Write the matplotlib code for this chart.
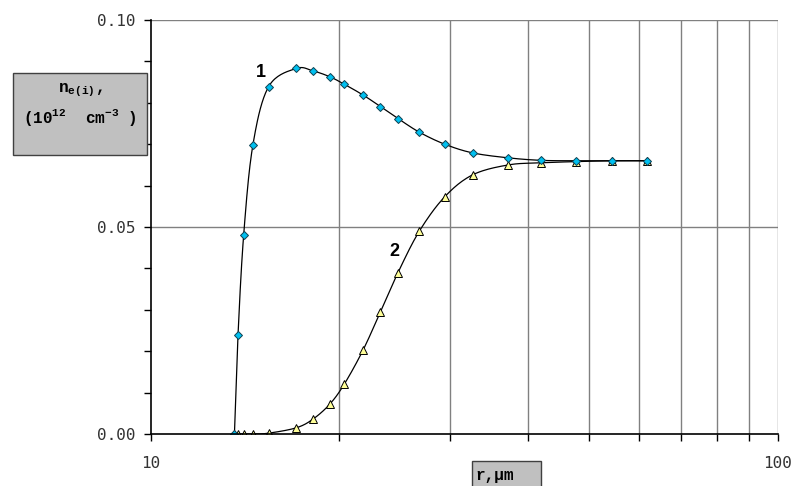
import numpy as np
import matplotlib
matplotlib.use('Agg')
import matplotlib.pyplot as plt
from matplotlib.patches import Rectangle

# radius, um (shared by both curves)
r = [13.6, 13.78, 14.07, 14.55, 15.42, 17.07, 18.15, 19.3, 20.35, 21.8,
     23.25, 24.8, 26.82, 29.44, 32.62, 37.2, 41.95, 47.7, 54.45, 61.9]
# curve 1: electrons
ne = [0.0, 0.0239, 0.0481, 0.0697, 0.0839, 0.0883, 0.0877, 0.0863, 0.0845, 0.0819,
      0.0791, 0.0762, 0.0729, 0.0700, 0.0679, 0.0667, 0.0661, 0.0660, 0.0660, 0.0660]
# curve 2: ions
ni = [0.0, 0.0, 0.0, 0.0, 0.0002, 0.0015, 0.0036, 0.0072, 0.0120, 0.0202,
      0.0295, 0.0390, 0.0490, 0.0573, 0.0626, 0.0650, 0.0655, 0.0658, 0.0660, 0.0660]

plt.rcParams['mathtext.fontset'] = 'custom'
plt.rcParams['mathtext.rm'] = 'Liberation Mono:bold'
plt.rcParams['mathtext.it'] = 'Liberation Mono:bold'
plt.rcParams['mathtext.bf'] = 'Liberation Mono:bold'

fig = plt.figure(figsize=(8.01, 4.86), dpi=100)
ax = fig.add_axes([150.7 / 801, 52 / 486, 627 / 801, 414 / 486])
ax.set_xscale('log')
ax.set_xlim(10, 100)
ax.set_ylim(0, 0.10)


def smooth(x, y, n=20):
    # catmull-rom in (log x, y) screen-like space, like excel's smoothed line
    u = np.log10(np.array(x, float)) * 627.0
    v = np.array(y, float) * 4140.0
    pu = np.concatenate([[u[0]], u, [u[-1]]])
    pv = np.concatenate([[v[0]], v, [v[-1]]])
    ou, ov = [], []
    for i in range(1, len(pu) - 2):
        t = np.linspace(0, 1, n, endpoint=False)
        for p, out in ((pu, ou), (pv, ov)):
            p0, p1, p2, p3 = p[i - 1], p[i], p[i + 1], p[i + 2]
            out.extend(0.5 * (2 * p1 + (-p0 + p2) * t + (2 * p0 - 5 * p1 + 4 * p2 - p3) * t ** 2
                              + (-p0 + 3 * p1 - 3 * p2 + p3) * t ** 3))
    ou.append(u[-1])
    ov.append(v[-1])
    return 10 ** (np.array(ou) / 627.0), np.array(ov) / 4140.0


sx, sy = smooth(r, ni)
ax.plot(sx, sy, color='black', lw=0.9, zorder=3)
ax.plot(r, ni, ls='none', marker='^', ms=6, mfc='#FFFF99', mec='black', mew=0.7, zorder=4)
sx, sy = smooth(r, ne)
ax.plot(sx, sy, color='black', lw=0.9, zorder=3)
ax.plot(r, ne, ls='none', marker='D', ms=4.5, mfc='#00C0F0', mec='#104050', mew=0.7, zorder=5)

ax.text(15.0, 0.0872, '1', fontsize=13, fontweight='bold', family='Liberation Sans',
        ha='center', va='center')
ax.text(24.43, 0.044, '2', fontsize=13, fontweight='bold', family='Liberation Sans',
        ha='center', va='center')

# grid
for g in [20, 30, 40, 50, 60, 70, 80, 90, 100]:
    ax.axvline(g, color='#808080', lw=1, zorder=1)
for g in [0.05, 0.10]:
    ax.axhline(g, color='#808080', lw=1, zorder=1)

for s in ['top', 'right']:
    ax.spines[s].set_visible(False)
for s in ['left', 'bottom']:
    ax.spines[s].set_linewidth(1.2)
    ax.spines[s].set_zorder(6)

ax.set_yticks([0.0, 0.05, 0.10])
ax.set_yticklabels(['0.00', '0.05', '0.10'])
ax.set_yticks(np.arange(0.01, 0.10, 0.01), minor=True)
ax.set_xticks([10, 100])
ax.set_xticklabels(['10', '100'])
ax.set_xticks([20, 30, 40, 50, 60, 70, 80, 90], minor=True)
ax.xaxis.set_minor_formatter(plt.NullFormatter())
ax.tick_params(which='both', direction='out', length=5, width=1, color='black')
ax.tick_params(axis='y', which='both', pad=6)
ax.tick_params(axis='x', which='both', pad=11)
for lab in ax.get_xticklabels() + ax.get_yticklabels():
    lab.set_family('DejaVu Sans Mono')
    lab.set_fontsize(11.5)
    lab.set_color('#333333')

# axis title boxes
fig.patches.append(Rectangle((13 / 801, 1 - 155 / 486), 134 / 801, 82 / 486,
                             transform=fig.transFigure, facecolor='#C0C0C0',
                             edgecolor='#404040', lw=1))
fig.text(80 / 801, 1 - 90 / 486, 'n$_{e(i)}$,', family='Liberation Mono', fontweight='bold',
         fontsize=11.5, ha='center', va='center')
fig.text(80 / 801, 1 - 117 / 486, '(10$^{12}$  cm$^{-3}$ )', family='Liberation Mono',
         fontweight='bold', fontsize=11.5, ha='center', va='center')

fig.patches.append(Rectangle((472 / 801, -0.02), 69 / 801, (486 - 461) / 486 + 0.02,
                             transform=fig.transFigure, facecolor='#C0C0C0',
                             edgecolor='#404040', lw=1))
fig.text(475 / 801, 1 - 475 / 486, 'r,\u00b5m', family='Liberation Mono', fontweight='bold',
         fontsize=11.5, ha='left', va='center')

fig.savefig('out.png', dpi=100)
